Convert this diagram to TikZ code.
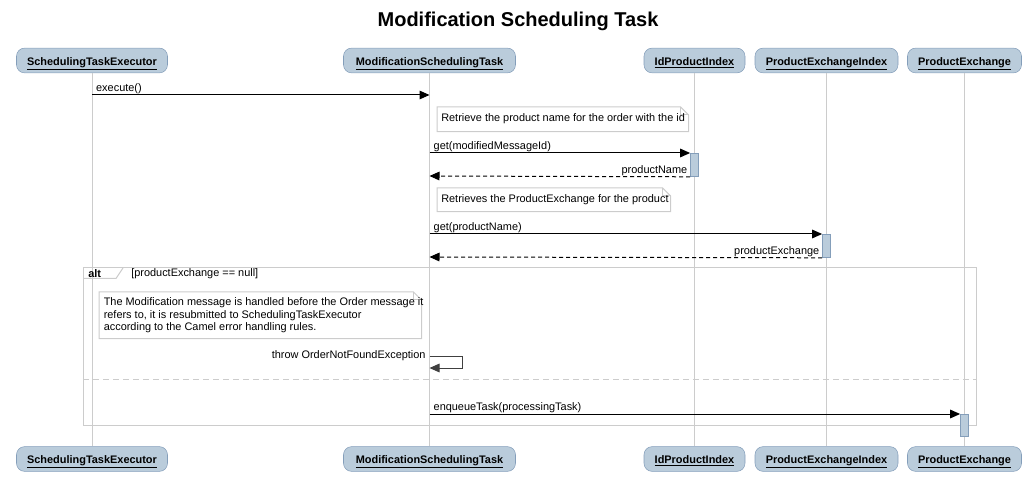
\documentclass[tikz,border=0pt]{standalone}
\usepackage{fontspec}
\setmainfont{Liberation Sans}
\usetikzlibrary{arrows.meta}

\definecolor{boxfill}{RGB}{186,204,219}
\definecolor{boxline}{RGB}{132,158,186}
\definecolor{grayline}{RGB}{204,204,204}

\tikzset{
  participant/.style={draw=boxline, fill=boxfill, rounded corners=6pt, minimum height=18.5pt,
    inner sep=0pt, text height=6.8pt, text depth=0pt, font=\fontsize{8.2}{10}\selectfont\bfseries},
  lifeline/.style={draw=grayline, line width=0.75pt},
  activation/.style={draw=boxline, fill=boxfill, minimum width=6pt, inner sep=0pt, line width=0.6pt},
  msg/.style={line width=0.75pt, -{Triangle[length=7.5pt,width=6.5pt]}},
  ret/.style={msg, dash pattern=on 3pt off 2.25pt},
  selfmsg/.style={msg, draw=black!75},
  lbl/.style={font=\fontsize{8.2}{10}\selectfont, inner sep=0.75pt},
  note/.style={draw=none, inner sep=0pt, anchor=north west},
  notetext/.style={font=\fontsize{8.2}{9.4}\selectfont, inner sep=0pt, align=left, anchor=west},
  notebox/.style={draw=grayline, fill=white, line width=0.75pt},
  frame/.style={draw=grayline, line width=0.75pt}
}

% note outline with folded corner
\newcommand{\dognote}[1]{%
  \draw[notebox] (#1.north west) -- ([xshift=-6pt]#1.north east) -- ([yshift=-6pt]#1.north east)
    -- (#1.south east) -- (#1.south west) -- cycle;
  \draw[notebox, fill=none] ([xshift=-6pt]#1.north east) |- ([yshift=-6pt]#1.north east);
}

\begin{document}
\begin{tikzpicture}[x=0.75pt, y=-0.75pt]
\useasboundingbox (0,0) rectangle (1035,495);

% title
\node[font=\fontsize{15}{18}\selectfont\bfseries] (title) at (518,21) {Modification Scheduling Task};

% participants
\node[participant, minimum width=113.25pt] (stetop) at (92,60.5) {\underline{SchedulingTaskExecutor}};
\node[participant, minimum width=129pt] (msttop) at (429.5,60.5) {\underline{ModificationSchedulingTask}};
\node[participant, minimum width=75.75pt] (idptop) at (694.5,60.5) {\underline{IdProductIndex}};
\node[participant, minimum width=107.25pt] (pextop) at (826.5,60.5) {\underline{ProductExchangeIndex}};
\node[participant, minimum width=85.5pt] (petop) at (964.5,60.5) {\underline{ProductExchange}};

\node[participant, minimum width=113.25pt] (stebot) at (92,459) {\underline{SchedulingTaskExecutor}};
\node[participant, minimum width=129pt] (mstbot) at (429.5,459) {\underline{ModificationSchedulingTask}};
\node[participant, minimum width=75.75pt] (idpbot) at (694.5,459) {\underline{IdProductIndex}};
\node[participant, minimum width=107.25pt] (pexbot) at (826.5,459) {\underline{ProductExchangeIndex}};
\node[participant, minimum width=85.5pt] (pebot) at (964.5,459) {\underline{ProductExchange}};

% lifelines
\draw[lifeline] (stetop) -- (stebot);
\draw[lifeline] (msttop) -- (mstbot);
\draw[lifeline] (idptop) -- (idpbot);
\draw[lifeline] (pextop) -- (pexbot);
\draw[lifeline] (petop) -- (pebot);

% alt frame
\draw[frame] (83,268) rectangle (976,425);
\draw[frame] (83,278.5) -- (116,278.5) -- (123,268);
\node[lbl, font=\fontsize{8.2}{10}\selectfont\bfseries, anchor=west] (altlbl) at (87,274) {alt};
\node[lbl, anchor=west] (guard) at (130,274) {[productExchange == null]};
\draw[frame, dash pattern=on 4.5pt off 3pt] (83,379) -- (976,379);

% activations
\node[activation, minimum height=17.25pt, anchor=north] (actidp) at (idptop.south |- 0,153) {};
\node[activation, minimum height=17.25pt, anchor=north] (actpex) at (pextop.south |- 0,234) {};
\node[activation, minimum height=16.5pt, anchor=north] (actpe) at (petop.south |- 0,414) {};

% notes
\node[note, minimum width=188.25pt, minimum height=18pt] (noteid) at (437,107) {};
\dognote{noteid}
\node[notetext] (noteidtxt) at (441,119) {Retrieve the product name for the order with the id};
\node[note, minimum width=174.75pt, minimum height=17.25pt] (notepex) at (437,188) {};
\dognote{notepex}
\node[notetext] (notepextxt) at (441,199.5) {Retrieves the ProductExchange for the product};
\node[note, minimum width=241.5pt, minimum height=34.5pt] (notemod) at (99,292) {};
\dognote{notemod}
\node[notetext] (notemodtxt) at (103.5,315.5)
  {The Modification message is handled before the Order message it\\
   refers to, it is resubmitted to SchedulingTaskExecutor\\
   according to the Camel error handling rules.};

% messages
\coordinate (execA) at (stetop.south |- 0,95);
\coordinate (execB) at (msttop.south |- 0,95);
\draw[msg] (execA) -- node[lbl, pos=0, anchor=south west, xshift=2pt] {execute()} (execB);

\coordinate (getidA) at (msttop.south |- 0,153);
\draw[msg] (getidA) -- node[lbl, pos=0, anchor=south west, xshift=2pt] {get(modifiedMessageId)} (actidp.north west);
\coordinate (nameB) at (msttop.south |- 0,176);
\draw[ret] (actidp.south west) -- node[lbl, pos=0, anchor=south east, xshift=-1pt] {productName} (nameB);

\coordinate (getpexA) at (msttop.south |- 0,234);
\draw[msg] (getpexA) -- node[lbl, pos=0, anchor=south west, xshift=2pt] {get(productName)} (actpex.north west);
\coordinate (pexB) at (msttop.south |- 0,257);
\draw[ret] (actpex.south west) -- node[lbl, pos=0, anchor=south east, xshift=-1pt] {productExchange} (pexB);

\coordinate (throwA) at (msttop.south |- 0,356);
\coordinate (throwB) at (msttop.south |- 0,368);
\draw[selfmsg] (throwA) -- ++(33,0) |- (throwB);
\node[lbl, anchor=east, xshift=-2pt] (throwlbl) at (throwA) {throw OrderNotFoundException};

\coordinate (enqA) at (msttop.south |- 0,414);
\draw[msg] (enqA) -- node[lbl, pos=0, anchor=south west, xshift=2pt] {enqueueTask(processingTask)} (actpe.north west);

\end{tikzpicture}
\end{document}
